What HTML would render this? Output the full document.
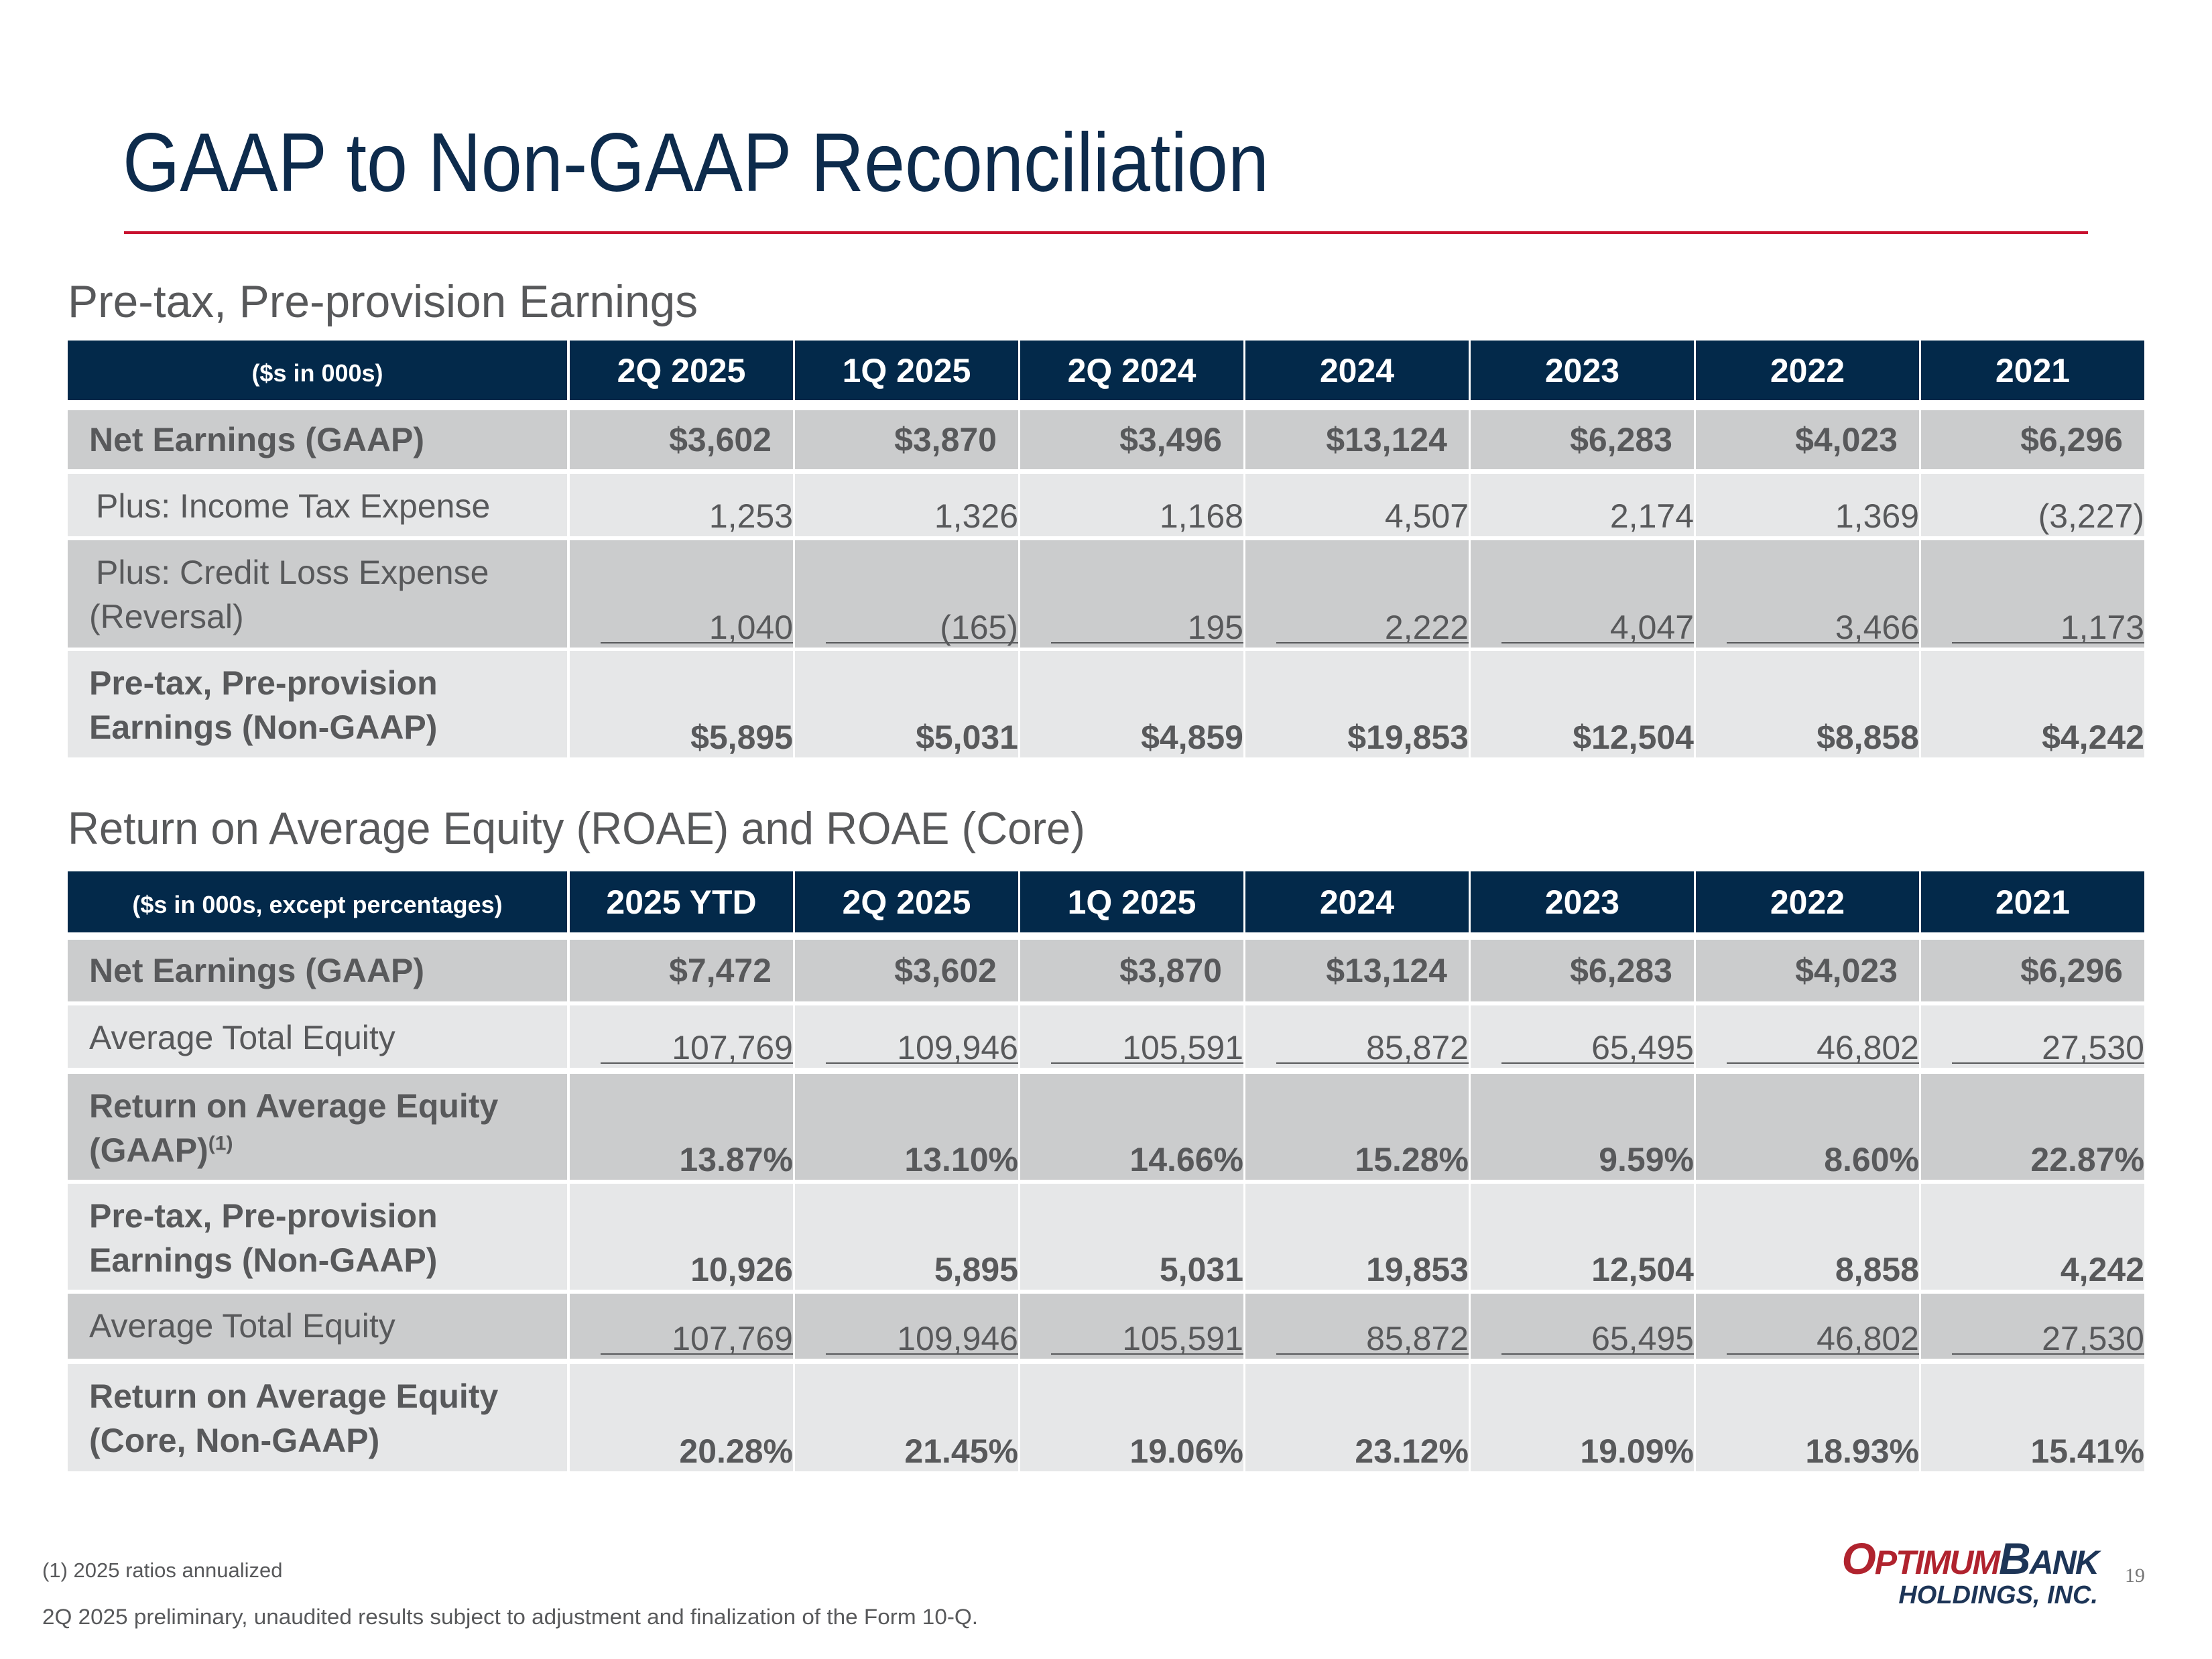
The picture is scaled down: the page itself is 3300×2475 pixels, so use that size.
<!DOCTYPE html>
<html><head><meta charset="utf-8"><style>
body{margin:0;width:3300px;height:2475px;background:#fff;position:relative;overflow:hidden;font-family:"Liberation Sans Narrow","Liberation Sans",sans-serif;color:#58595b}
.a{position:absolute;white-space:nowrap}
</style></head><body>
<div class="a" style="left:183px;top:168px;font-size:124px;line-height:150px;color:#0d2b4c;transform:scaleX(0.885);transform-origin:0 0">GAAP to Non-GAAP Reconciliation</div>
<div class="a" style="left:185px;top:345px;width:2930px;height:4px;background:#c8102e"></div>
<div class="a" style="left:101px;top:413px;font-size:68px;line-height:74px;transform:scaleX(0.995);transform-origin:0 0">Pre-tax, Pre-provision Earnings</div>
<div class="a" style="left:101px;top:1199px;font-size:68px;line-height:74px;transform:scaleX(0.957);transform-origin:0 0">Return on Average Equity (ROAE) and ROAE (Core)</div>
<div class="a" style="left:63px;top:2325px;font-size:31px;line-height:36px">(1) 2025 ratios annualized</div>
<div class="a" style="left:63px;top:2394px;font-size:32px;line-height:36px;transform:scaleX(1.04);transform-origin:0 0">2Q 2025 preliminary, unaudited results subject to adjustment and finalization of the Form 10-Q.</div>
<div class="a" style="left:2738px;top:2292px;width:400px;height:110px;font-family:'Liberation Sans',sans-serif;font-weight:bold;font-style:italic">
  <div class="a" style="right:8px;top:0;font-size:66px;line-height:66px;letter-spacing:-2px"><span style="color:#b0232e">O<span style="font-size:50px">PTIMUM</span></span><span style="color:#1d3557">B<span style="font-size:50px">ANK</span></span></div>
  <div class="a" style="right:8px;top:68px;font-size:38px;line-height:40px;color:#1d3557">HOLDINGS, INC.</div>
</div>
<div class="a" style="left:3170px;top:2334px;font-size:30px;line-height:34px;font-family:'Liberation Serif',serif;color:#777">19</div>
<script>
const hdr1 = ['2Q 2025','1Q 2025','2Q 2024','2024','2023','2022','2021'];
const hdr2 = ['2025 YTD','2Q 2025','1Q 2025','2024','2023','2022','2021'];
const netEarn1 = ['$3,602','$3,870','$3,496','$13,124','$6,283','$4,023','$6,296'];
const taxExp = ['1,253','1,326','1,168','4,507','2,174','1,369','(3,227)'];
const creditLoss = ['1,040','(165)','195','2,222','4,047','3,466','1,173'];
const pptp1 = ['$5,895','$5,031','$4,859','$19,853','$12,504','$8,858','$4,242'];
const netEarn2 = ['$7,472','$3,602','$3,870','$13,124','$6,283','$4,023','$6,296'];
const avgEq = ['107,769','109,946','105,591','85,872','65,495','46,802','27,530'];
const roaeGaap = ['13.87%','13.10%','14.66%','15.28%','9.59%','8.60%','22.87%'];
const pptp2 = ['10,926','5,895','5,031','19,853','12,504','8,858','4,242'];
const roaeCore = ['20.28%','21.45%','19.06%','23.12%','19.09%','18.93%','15.41%'];

const DARK='#cbcccd', LIGHT='#e6e7e8', NAVY='#03294a';
function colX(i){return 850+i*336;}
function box(name,x,y,w,h,bg){
  const el=document.createElement('div');
  el.className='a';
  
  
  el.style.cssText=`left:${x}px;top:${y}px;width:${w}px;height:${h}px;background:${bg}`;
  document.body.appendChild(el);return el;
}
function txt(name,str,x,cy,size,bold,color,align,w){
  const el=document.createElement('div');
  el.className='a';
  
  
  let s=`top:${cy-size*0.6}px;font-size:${size}px;line-height:${size*1.2}px;color:${color};font-weight:${bold?'bold':'normal'};`;
  if(align==='right') s+=`left:${x-w}px;width:${w}px;text-align:right;`;
  else if(align==='center') s+=`left:${x}px;width:${w}px;text-align:center;`;
  else s+=`left:${x}px;`;
  el.style.cssText=s;el.innerHTML=str;document.body.appendChild(el);return el;
}
function header(prefix,top,h,label,cols){
  box(prefix+'-header-label-cell',101,top,745,h,NAVY);
  txt(prefix+'-header-units',label,101,top+h/2+4,36,true,'#fff','center',745);
  cols.forEach((c,i)=>{
    box(prefix+'-header-cell',colX(i),top,333,h,NAVY);
    txt(prefix+'-header-period',c,colX(i),top+h/2,50,true,'#fff','center',333);
  });
}
function row(prefix,lines,top,bot,bg,bold,vals,mode,underline,lx){
  box(prefix+'-label-cell',101,top,745,bot-top,bg);
  if(lines.length===1 && mode==='mid') txt(prefix+'-label',lines[0],lx[0],(top+bot)/2,50,bold,'#58595b','left');
  else lines.forEach((l,k)=>txt(prefix+'-label',l,lx[k],top+48+k*66,50,bold,'#58595b','left'));
  vals.forEach((v,i)=>{
    box(prefix+'-cell',colX(i),top,333,bot-top,bg);
    const right=colX(i)+333;
    if(mode==='mid') txt(prefix+'-value',v,right-32,(top+bot)/2,50,bold,'#58595b','right',320);
    else txt(prefix+'-value',v,right,bot-30,50,bold,'#58595b','right',330);
    if(underline){ box(prefix+'-underline',colX(i)+46,bot-8,287,2,'#58595b'); }
  });
}
header('pptp-table',508,89,'($s in 000s)',hdr1);
row('pptp-net-earnings',['Net Earnings (GAAP)'],612,700,DARK,true,netEarn1,'mid',false,[133]);
row('pptp-income-tax',['Plus: Income Tax Expense'],707,800,LIGHT,false,taxExp,'bottom',false,[143]);
row('pptp-credit-loss',['Plus: Credit Loss Expense','(Reversal)'],806,966,DARK,false,creditLoss,'bottom',true,[143,133]);
row('pptp-total',['Pre-tax, Pre-provision','Earnings (Non-GAAP)'],971,1130,LIGHT,true,pptp1,'bottom',false,[133,133]);

header('roae-table',1300,91,'($s in 000s, except percentages)',hdr2);
row('roae-net-earnings',['Net Earnings (GAAP)'],1402,1494,DARK,true,netEarn2,'mid',false,[133]);
row('roae-avg-equity',['Average Total Equity'],1500,1593,LIGHT,false,avgEq,'bottom',true,[133]);
row('roae-gaap',['Return on Average Equity','(GAAP)<sup style="font-size:30px;line-height:0">(1)</sup>'],1602,1760,DARK,true,roaeGaap,'bottom',false,[133,133]);
row('roae-pptp',['Pre-tax, Pre-provision','Earnings (Non-GAAP)'],1766,1924,LIGHT,true,pptp2,'bottom',false,[133,133]);
row('roae-avg-equity-core',['Average Total Equity'],1930,2027,DARK,false,avgEq,'bottom',true,[133]);
row('roae-core',['Return on Average Equity','(Core, Non-GAAP)'],2035,2195,LIGHT,true,roaeCore,'bottom',false,[133,133]);
</script>
</body></html>
